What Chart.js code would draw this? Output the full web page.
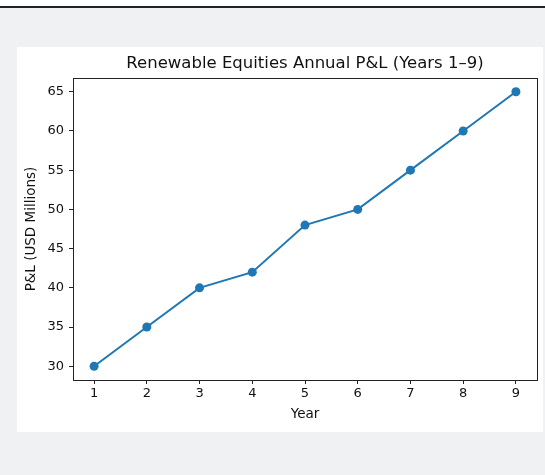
<!DOCTYPE html>
<html>
<head>
<meta charset="utf-8">
<script src="https://cdn.jsdelivr.net/npm/chart.js@4.4.1/dist/chart.umd.min.js"></script>
<style>
  html, body { margin: 0; padding: 0; }
  body { width: 545px; height: 475px; background: #f0f1f3; position: relative; overflow: hidden; }
  .topbar { position: absolute; left: 0; top: 0; width: 545px; height: 6px; background: #fff; border-bottom: 2px solid #222; }
  .card { position: absolute; left: 17px; top: 47px; width: 526px; height: 385px; background: #fff; }
  canvas { display: block; }
</style>
</head>
<body>
<div class="topbar"></div>
<div class="card"><canvas id="pnl-chart" width="526" height="385"></canvas></div>
<script>
// Dados do gráfico
const years = [1, 2, 3, 4, 5, 6, 7, 8, 9];
const pnl = [30, 35, 40, 42, 48, 50, 55, 60, 65];
const yTicks = [30, 35, 40, 45, 50, 55, 60, 65];
const xTicks = [1, 2, 3, 4, 5, 6, 7, 8, 9];

const TITLE = 'Renewable Equities Annual P&L (Years 1–9)';
const X_LABEL = 'Year';
const Y_LABEL = 'P&L (USD Millions)';
const LINE_COLOR = '#1f77b4';
const FONT = '"DejaVu Sans", sans-serif';

// Moldura (eixos superior e direito) e textos estilo matplotlib
const framePlugin = {
  id: 'frame',
  afterDraw(chart) {
    const { ctx, chartArea: a } = chart;
    ctx.save();
    ctx.strokeStyle = '#222';
    ctx.lineWidth = 1;
    ctx.strokeRect(a.left + 0.5, a.top + 0.5, a.right - a.left, a.bottom - a.top);

    ctx.fillStyle = '#111';
    ctx.textAlign = 'center';
    ctx.textBaseline = 'middle';
    ctx.font = '16.5px ' + FONT;
    ctx.fillText(TITLE, (a.left + a.right) / 2, 17);

    ctx.font = '13.5px ' + FONT;
    ctx.fillText(X_LABEL, (a.left + a.right) / 2, 367);

    ctx.translate(14, (a.top + a.bottom) / 2);
    ctx.rotate(-Math.PI / 2);
    ctx.fillText(Y_LABEL, 0, 0);
    ctx.restore();
  }
};

new Chart(document.getElementById('pnl-chart'), {
  type: 'line',
  data: {
    datasets: [{
      data: years.map((x, i) => ({ x, y: pnl[i] })),
      borderColor: LINE_COLOR,
      backgroundColor: LINE_COLOR,
      borderWidth: 2,
      pointRadius: 4.5,
      pointBackgroundColor: LINE_COLOR,
      pointBorderWidth: 0,
      tension: 0
    }]
  },
  options: {
    responsive: false,
    animation: false,
    layout: { padding: { left: 0, top: 31, right: 6, bottom: 0 } },
    plugins: { legend: { display: false }, tooltip: { enabled: false } },
    scales: {
      x: {
        type: 'linear',
        min: 0.6,
        max: 9.4,
        afterBuildTicks: s => { s.ticks = xTicks.map(v => ({ value: v })); },
        afterFit: s => { s.height = 52; },
        ticks: { color: '#111', font: { family: FONT, size: 13 }, padding: 2, maxRotation: 0 },
        grid: { drawOnChartArea: false, tickLength: 4, tickColor: '#222' },
        border: { color: '#222' }
      },
      y: {
        min: 28.25,
        max: 66.75,
        afterBuildTicks: s => { s.ticks = yTicks.map(v => ({ value: v })); },
        afterFit: s => { s.width = 56; },
        ticks: { color: '#111', font: { family: FONT, size: 13 }, padding: 5 },
        grid: { drawOnChartArea: false, tickLength: 4, tickColor: '#222' },
        border: { color: '#222' }
      }
    }
  },
  plugins: [framePlugin]
});
</script>
</body>
</html>
